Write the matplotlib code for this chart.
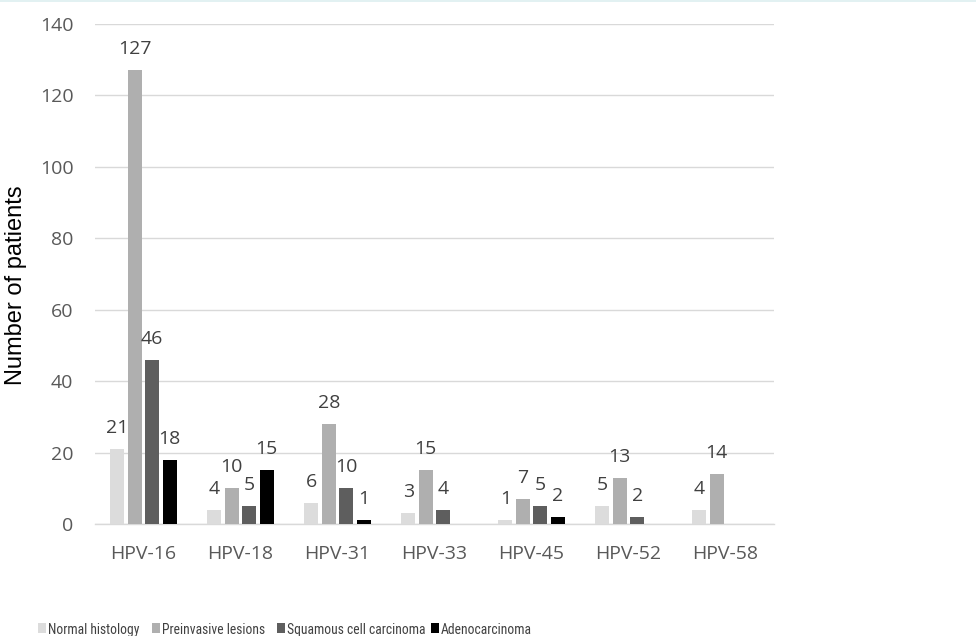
import os
import matplotlib
matplotlib.use("Agg")
import matplotlib.pyplot as plt
from matplotlib import font_manager as fm
from matplotlib.patches import Rectangle
import numpy as np

categories = ["HPV-16", "HPV-18", "HPV-31", "HPV-33", "HPV-45", "HPV-52", "HPV-58"]
series_names = ["Normal histology", "Preinvasive lesions",
                "Squamous cell carcinoma", "Adenocarcinoma"]
normal_histology = [21, 4, 6, 3, 1, 5, 4]
preinvasive_lesions = [127, 10, 28, 15, 7, 13, 14]
squamous_cell_carcinoma = [46, 5, 10, 4, 5, 2, 0]
adenocarcinoma = [18, 15, 1, 0, 2, 0, 0]
y_ticks = [0, 20, 40, 60, 80, 100, 120, 140]

series_values = [normal_histology, preinvasive_lesions,
                 squamous_cell_carcinoma, adenocarcinoma]
colors = ["#dcdcdc", "#afafaf", "#5e5e5e", "#000000"]

# preferred narrow faces for the legend, best first
NARROW_FILES = ["notosans-extracondensed.ttf", "liberationsansnarrow-regular.ttf",
                "notosans-condensed.ttf", "opensans-condensedregular.ttf",
                "roboto-condensed.ttf", "robotocondensed-regular.ttf",
                "notosans-semicondensed.ttf", "dejavusanscondensed.ttf"]


def narrow_font_path():
    found = {os.path.basename(p).lower(): p for p in fm.findSystemFonts()}
    for name in NARROW_FILES:
        if name in found:
            return found[name]
    return None


W, H = 976, 636
fig = plt.figure(figsize=(W / 100, H / 100), dpi=100)
ax = fig.add_axes([95 / W, 112 / H, 679 / W, 500 / H])

# thin tinted strip along the top edge
fig.patches.append(Rectangle((0, 1 - 2 / H), 1, 2 / H, transform=fig.transFigure,
                             facecolor="#e2f1f2", edgecolor="none", zorder=0))

tick_font = "Open Sans"
x = np.arange(len(categories))
step, width = 0.18, 0.144
for j, (vals, col) in enumerate(zip(series_values, colors)):
    pos = x + (j - 1.5) * step
    ax.bar(pos, vals, width=width, color=col, zorder=3, label=series_names[j])
    for xp, v in zip(pos, vals):
        if v:
            ax.annotate(str(v), (xp, v), xytext=(0, 11.5), textcoords="offset points",
                        ha="center", va="baseline", fontsize=14,
                        color="#404040", family=tick_font)

ax.set_xlim(-0.5, len(categories) - 0.5)
ax.set_ylim(0, 140)
ax.set_yticks(y_ticks)
ax.set_xticks(x)
ax.set_xticklabels(categories)
ax.grid(axis="y", color="#d9d9d9", linewidth=1.0, zorder=0)
for s in ["top", "right", "left"]:
    ax.spines[s].set_visible(False)
ax.spines["bottom"].set_color("#d9d9d9")
ax.spines["bottom"].set_linewidth(1.0)
ax.tick_params(axis="both", length=0, labelsize=14, labelcolor="#595959")
ax.tick_params(axis="y", pad=15.5)
ax.tick_params(axis="x", pad=15)
for lab in ax.get_xticklabels() + ax.get_yticklabels():
    lab.set_family(tick_font)

ax.set_ylabel("Number of patients", family="Liberation Sans", fontsize=17,
              color="black")
ax.yaxis.set_label_coords(-68 / 679, (524 - 285) / 500)

# legend along the bottom edge, one entry per series
legend_x = [38, 152, 277, 431]
path = narrow_font_path()
if path:
    leg_prop = fm.FontProperties(fname=path, size=12)
else:
    leg_prop = fm.FontProperties(family="Lato", size=12)

# size the legend text so every label fits before the next swatch
renderer = fig.canvas.get_renderer()
room = [legend_x[i + 1] - legend_x[i] - 16 for i in range(3)] + [W - legend_x[3] - 10]
scale = []
for name, r in zip(series_names, room):
    probe = fig.text(0, 0, name, fontproperties=leg_prop)
    scale.append(r / probe.get_window_extent(renderer).width)
    probe.remove()
leg_prop.set_size(min(14, 12 * min(scale)))

for name, col, px in zip(series_names, colors, legend_x):
    fig.patches.append(Rectangle((px / W, 1 - 633 / H), 8 / W, 10 / H,
                                 transform=fig.transFigure, facecolor=col,
                                 edgecolor="none"))
    fig.text((px + 10) / W, 1 - 634 / H, name, fontproperties=leg_prop,
             color="#404040", ha="left", va="baseline")

fig.savefig("out.png", dpi=100)
